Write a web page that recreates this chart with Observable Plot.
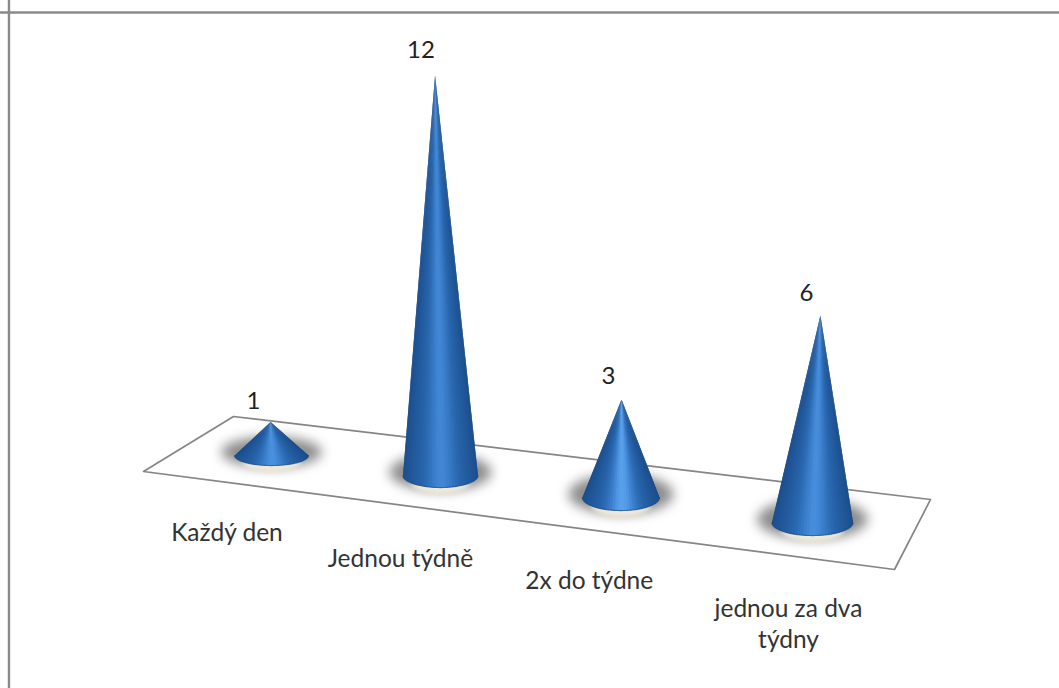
<!DOCTYPE html>
<html lang="cs">
<head>
<meta charset="utf-8">
<title>Cone chart</title>
<script src="https://cdn.jsdelivr.net/npm/d3@7"></script>
<script src="https://cdn.jsdelivr.net/npm/@observablehq/plot@0.6"></script>
<style>
  html, body { margin: 0; padding: 0; background: #fff; overflow: hidden; }
  svg { display: block; }
</style>
</head>
<body>
<div id="chart"></div>
<script>
// Answers per category
const categories = ["Každý den", "Jednou týdně", "2x do týdne", "jednou za dva\ntýdny"];
const counts = [1, 12, 3, 6];

// Oblique view of the floor: where each cone stands, in category slots and value levels
const baseSlot = [0, 0.937, 1.938, 3.0];
const baseLevel = [0, -0.597, -1.254, -2.0];
const tipLean = [-0.005, -0.03, 0.003, 0.044];
const riseScale = [1, 0.995, 0.975, 1.03];
const radiusSlot = [0.205, 0.208, 0.214, 0.225];
const radiusLevel = [0.3, 0.36, 0.39, 0.39];
const highlight = [0.75, 0.6, 1, 0.7];

// Floor outline and label anchors in the same units
const floorSlot = [-0.211, 3.655, 3.455, -0.71];
const floorLevel = [1.164, -1.313, -3.403, -0.478];
const labelSlot = [-0.247, 0.715, 1.762, 2.867];
const labelLevel = [-2.24, -3.01, -3.69, -4.98];
const valueOffsetSlot = [-0.095, -0.078, -0.072, -0.078];
const valueOffsetLevel = [0.61, 0.76, 0.7, 0.67];

// Scale extents: one slot is about 180px and one level about 33.5px
const width = 1059, height = 688;
const slotDomain = [-1.503, 4.37];
const levelDomain = [13.58, -6.955];
const frameSlot = -1.456, frameLevel = 13.22;

const tips = counts.map((v, i) => ({
  slot: baseSlot[i] + tipLean[i],
  level: baseLevel[i] + v * riseScale[i]
}));

const floor = floorSlot.map((s, i) => ({slot: s, level: floorLevel[i]}));

// Closed ellipse around a cone's base
const ring = (i, growSlot, growLevel, shift) =>
  d3.range(48).map(k => {
    const t = (k / 48) * 2 * Math.PI;
    return {
      cone: i,
      slot: baseSlot[i] + radiusSlot[i] * growSlot * Math.cos(t),
      level: baseLevel[i] + shift + radiusLevel[i] * growLevel * Math.sin(t)
    };
  });

const shadows = counts.flatMap((_, i) => ring(i, 1.36, 1.55, 0.1));
const glows = counts.flatMap((_, i) => ring(i, 0.78, 1, -0.2));

// Front arc of a cone's base
const arc = (i, t) => ({
  slot: baseSlot[i] - radiusSlot[i] * Math.cos(t),
  level: baseLevel[i] - radiusLevel[i] * Math.sin(t)
});

const sliceCount = 40;
const rims = counts.flatMap((_, i) =>
  d3.range(sliceCount + 1).map(k => ({...arc(i, (k / sliceCount) * Math.PI), cone: i}))
);

// Each cone is a fan of thin triangles from the tip to the front arc of its base,
// shaded by where the triangle faces across the cone. Every triangle runs one step
// under the next, so no seams show between them.
const slices = counts.flatMap((_, i) =>
  d3.range(sliceCount).flatMap(k => {
    const step = Math.PI / sliceCount;
    const t0 = k * step;
    const t1 = Math.min(Math.PI, (k + 2) * step);
    const across = (1 - Math.cos(t0 + step / 2)) / 2;
    const bell = Math.exp(-Math.pow((across - 0.52) / 0.2, 2));
    const edge = Math.min(across, 1 - across) * 2;
    const shade = 0.12 + 0.35 * Math.sqrt(edge) + 0.52 * highlight[i] * bell;
    const id = `${i}-${String(k).padStart(2, "0")}`;
    const middle = arc(i, (t0 + t1) / 2);
    return [tips[i], arc(i, t0), middle, arc(i, t1)].map(p => ({...p, id, shade}));
  })
);

const chart = Plot.plot({
  width,
  height,
  margin: 0,
  x: {domain: slotDomain, range: [0, width], axis: null},
  y: {domain: levelDomain, range: [0, height], axis: null},
  color: {type: "linear", domain: [0, 0.25, 0.5, 0.75, 1], range: ["#173f78", "#1f5596", "#2c6bb4", "#3f84d2", "#5aa2ee"]},
  style: {background: "#fff", fontFamily: "Lato, sans-serif"},
  marks: [
    // Outer frame: top and left edges only
    Plot.ruleY([frameLevel], {stroke: "#8a8a8a", strokeWidth: 2.4}),
    Plot.ruleX([frameSlot], {stroke: "#8a8a8a", strokeWidth: 2.4}),
    Plot.line(floor, {x: "slot", y: "level", curve: "linear-closed", stroke: "#858585", strokeWidth: 1.7}),
    Plot.line(shadows, {x: "slot", y: "level", z: "cone", curve: "linear-closed", fill: "#8c8c8c", stroke: "none", imageFilter: "blur(6px)"}),
    Plot.line(glows, {x: "slot", y: "level", z: "cone", curve: "linear-closed", fill: "#efe9da", stroke: "none", imageFilter: "blur(2px)"}),
    Plot.line(slices, {x: "slot", y: "level", z: "id", curve: "linear-closed", fill: "shade", stroke: "none"}),
    Plot.line(rims, {x: "slot", y: "level", z: "cone", stroke: "#1d4d8c", strokeWidth: 1.2, strokeOpacity: 0.7}),
    Plot.text(counts, {
      x: (_, i) => tips[i].slot + valueOffsetSlot[i],
      y: (_, i) => tips[i].level + valueOffsetLevel[i],
      text: d => String(d),
      fontSize: 24,
      fill: "#222"
    }),
    Plot.text(categories, {
      x: (_, i) => labelSlot[i],
      y: (_, i) => labelLevel[i],
      text: d => d,
      fontSize: 24.5,
      lineHeight: 1.3,
      fill: "#333"
    })
  ]
});

document.getElementById("chart").append(chart);
</script>
</body>
</html>
